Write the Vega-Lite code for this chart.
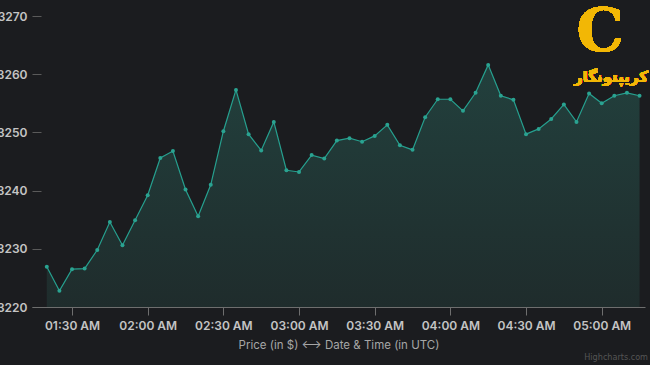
{
  "$schema": "https://vega.github.io/schema/vega-lite/v6.json",
  "width": 613,
  "height": 291,
  "autosize": {"type": "none"},
  "padding": {"left": 32, "top": 16, "right": 5, "bottom": 58},
  "background": "#1b1c1f",
  "config": {
    "view": {"stroke": null},
    "font": "Inter",
    "title": {"color": "#555", "fontSize": 9, "fontWeight": "normal", "font": "DejaVu Sans Condensed"}
  },
  "title": {"text": "Highcharts.com", "orient": "bottom", "anchor": "end", "offset": 2},
  "data": {
    "values": [
      {"t": "2024-01-01T01:20:00Z", "price": 3226.9},
      {"t": "2024-01-01T01:25:00Z", "price": 3222.8},
      {"t": "2024-01-01T01:30:00Z", "price": 3226.5},
      {"t": "2024-01-01T01:35:00Z", "price": 3226.6},
      {"t": "2024-01-01T01:40:00Z", "price": 3229.8},
      {"t": "2024-01-01T01:45:00Z", "price": 3234.6},
      {"t": "2024-01-01T01:50:00Z", "price": 3230.6},
      {"t": "2024-01-01T01:55:00Z", "price": 3234.9},
      {"t": "2024-01-01T02:00:00Z", "price": 3239.2},
      {"t": "2024-01-01T02:05:00Z", "price": 3245.6},
      {"t": "2024-01-01T02:10:00Z", "price": 3246.8},
      {"t": "2024-01-01T02:15:00Z", "price": 3240.2},
      {"t": "2024-01-01T02:20:00Z", "price": 3235.6},
      {"t": "2024-01-01T02:25:00Z", "price": 3241.0},
      {"t": "2024-01-01T02:30:00Z", "price": 3250.2},
      {"t": "2024-01-01T02:35:00Z", "price": 3257.3},
      {"t": "2024-01-01T02:40:00Z", "price": 3249.7},
      {"t": "2024-01-01T02:45:00Z", "price": 3246.9},
      {"t": "2024-01-01T02:50:00Z", "price": 3251.8},
      {"t": "2024-01-01T02:55:00Z", "price": 3243.5},
      {"t": "2024-01-01T03:00:00Z", "price": 3243.2},
      {"t": "2024-01-01T03:05:00Z", "price": 3246.1},
      {"t": "2024-01-01T03:10:00Z", "price": 3245.5},
      {"t": "2024-01-01T03:15:00Z", "price": 3248.6},
      {"t": "2024-01-01T03:20:00Z", "price": 3249.0},
      {"t": "2024-01-01T03:25:00Z", "price": 3248.4},
      {"t": "2024-01-01T03:30:00Z", "price": 3249.4},
      {"t": "2024-01-01T03:35:00Z", "price": 3251.3},
      {"t": "2024-01-01T03:40:00Z", "price": 3247.8},
      {"t": "2024-01-01T03:45:00Z", "price": 3247.0},
      {"t": "2024-01-01T03:50:00Z", "price": 3252.6},
      {"t": "2024-01-01T03:55:00Z", "price": 3255.7},
      {"t": "2024-01-01T04:00:00Z", "price": 3255.7},
      {"t": "2024-01-01T04:05:00Z", "price": 3253.7},
      {"t": "2024-01-01T04:10:00Z", "price": 3256.8},
      {"t": "2024-01-01T04:15:00Z", "price": 3261.6},
      {"t": "2024-01-01T04:20:00Z", "price": 3256.3},
      {"t": "2024-01-01T04:25:00Z", "price": 3255.6},
      {"t": "2024-01-01T04:30:00Z", "price": 3249.7},
      {"t": "2024-01-01T04:35:00Z", "price": 3250.6},
      {"t": "2024-01-01T04:40:00Z", "price": 3252.3},
      {"t": "2024-01-01T04:45:00Z", "price": 3254.8},
      {"t": "2024-01-01T04:50:00Z", "price": 3251.8},
      {"t": "2024-01-01T04:55:00Z", "price": 3256.7},
      {"t": "2024-01-01T05:00:00Z", "price": 3255.0},
      {"t": "2024-01-01T05:05:00Z", "price": 3256.3},
      {"t": "2024-01-01T05:10:00Z", "price": 3256.8},
      {"t": "2024-01-01T05:15:00Z", "price": 3256.3}
    ]
  },
  "encoding": {
    "x": {
      "field": "t",
      "type": "temporal",
      "scale": {
        "type": "utc",
        "domain": [
          {"year": 2024, "month": 1, "date": 1, "hours": 1, "minutes": 14, "seconds": 8, "utc": true},
          {"year": 2024, "month": 1, "date": 1, "hours": 5, "minutes": 17, "seconds": 10, "utc": true}
        ]
      },
      "axis": {
        "title": "Price (in $) ⟷ Date & Time (in UTC)",
        "titleColor": "#a6a6a6",
        "titleFontSize": 11.5,
        "titleFontWeight": "normal",
        "titlePadding": 8,
        "labelExpr": "utcFormat(datum.value, '%I:%M %p')",
        "values": [
          {"year": 2024, "month": 1, "date": 1, "hours": 1, "minutes": 30, "utc": true},
          {"year": 2024, "month": 1, "date": 1, "hours": 2, "minutes": 0, "utc": true},
          {"year": 2024, "month": 1, "date": 1, "hours": 2, "minutes": 30, "utc": true},
          {"year": 2024, "month": 1, "date": 1, "hours": 3, "minutes": 0, "utc": true},
          {"year": 2024, "month": 1, "date": 1, "hours": 3, "minutes": 30, "utc": true},
          {"year": 2024, "month": 1, "date": 1, "hours": 4, "minutes": 0, "utc": true},
          {"year": 2024, "month": 1, "date": 1, "hours": 4, "minutes": 30, "utc": true},
          {"year": 2024, "month": 1, "date": 1, "hours": 5, "minutes": 0, "utc": true}
        ],
        "grid": false,
        "domainColor": "#6e6e6e",
        "tickColor": "#6e6e6e",
        "tickSize": 8,
        "labelColor": "#c4c4c4",
        "labelFontSize": 12,
        "labelFontWeight": 600,
        "labelPadding": 5,
        "labelFlush": false,
        "zindex": 1
      }
    },
    "y": {
      "field": "price",
      "type": "quantitative",
      "scale": {"domain": [3220, 3270], "zero": false, "nice": false},
      "axis": {
        "title": null,
        "format": "d",
        "values": [3220, 3230, 3240, 3250, 3260, 3270],
        "grid": false,
        "domain": false,
        "offset": -9,
        "tickSize": 9,
        "tickColor": "#5a5a5a",
        "labelColor": "#c4c4c4",
        "labelFontSize": 12,
        "labelFontWeight": 600,
        "labelPadding": 5
      }
    }
  },
  "layer": [
    {
      "mark": {
        "type": "area",
        "color": {
          "gradient": "linear",
          "x1": 0, "y1": 0, "x2": 0, "y2": 1,
          "stops": [
            {"offset": 0, "color": "#22403d"},
            {"offset": 1, "color": "#1f2c2c"}
          ]
        }
      },
      "encoding": {"y2": {"datum": 3220}}
    },
    {
      "mark": {"type": "line", "color": "#26a08f", "strokeWidth": 1.2}
    },
    {
      "mark": {"type": "point", "filled": true, "color": "#2aa391", "size": 16, "opacity": 1}
    },
    {
      "mark": {"type": "text", "text": "C", "color": "#f2b705", "fontSize": 60, "fontWeight": "bold", "font": "DejaVu Serif", "align": "center", "baseline": "middle"},
      "encoding": {
        "x": {"datum": {"year": 2024, "month": 1, "date": 1, "hours": 4, "minutes": 59, "seconds": 20, "utc": true}, "type": "temporal"},
        "y": {"datum": 3267.1}
      }
    },
    {
      "mark": {"type": "text", "text": "کریپتونگار", "color": "#f2b705", "fontSize": 15, "fontWeight": "bold", "font": "DejaVu Sans", "align": "center", "baseline": "middle"},
      "encoding": {
        "x": {"datum": {"year": 2024, "month": 1, "date": 1, "hours": 5, "minutes": 3, "seconds": 42, "utc": true}, "type": "temporal"},
        "y": {"datum": 3259.5}
      }
    }
  ]
}
